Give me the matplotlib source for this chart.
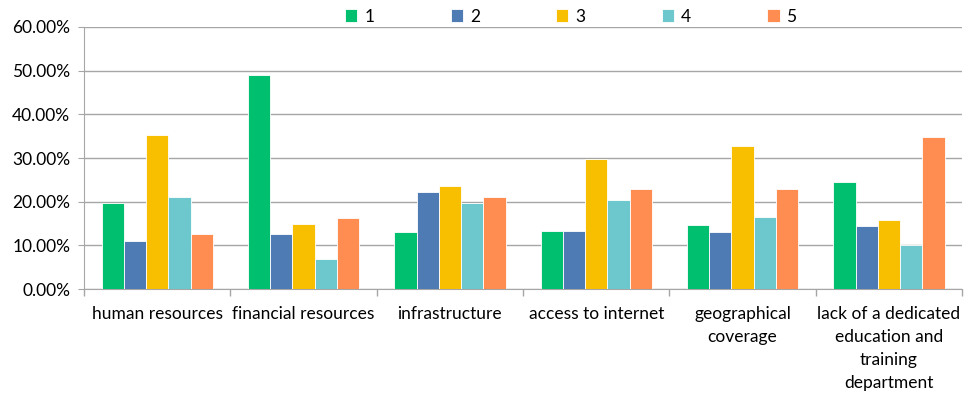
# Barriers by rating - grouped bar chart

import numpy as np
import matplotlib.pyplot as plt
from matplotlib.ticker import PercentFormatter

plt.rcParams['font.family'] = ['Lato', 'DejaVu Sans']

# ----------------------------
# Data
# ----------------------------
categories = ["human resources", "financial resources", "infrastructure",
              "access to internet", "geographical\ncoverage",
              "lack of a dedicated\neducation and\ntraining\ndepartment"]
series_names = ["1", "2", "3", "4", "5"]

r1 = [19.6, 48.9, 13.1, 13.4, 14.7, 24.6]
r2 = [11.1, 12.7, 22.3, 13.4, 13.0, 14.4]
r3 = [35.2, 15.0, 23.7, 29.7, 32.8, 15.9]
r4 = [21.1, 6.9, 19.6, 20.3, 16.4, 10.1]
r5 = [12.7, 16.2, 21.0, 22.9, 22.9, 34.8]

colors = ["#00BF6F", "#4F7BB5", "#F8BE00", "#6CC8CC", "#FF8C50"]

# ----------------------------
# Plot
# ----------------------------
fig = plt.figure(figsize=(9.66, 3.96), dpi=100)
ax = fig.add_axes([0.087, 0.270, 0.909, 0.662])

x = np.arange(len(categories))
width = 0.152
for i, vals in enumerate([r1, r2, r3, r4, r5]):
    ax.bar(x + (i - 2) * width, vals, width, color=colors[i],
           edgecolor="white", linewidth=0.6, label=series_names[i], zorder=3)

ax.set_xlim(-0.5, len(categories) - 0.5)
ax.set_ylim(0, 60)
ax.set_yticks(np.arange(0, 61, 10))
ax.yaxis.set_major_formatter(PercentFormatter(decimals=2))
ax.grid(axis="y", color="#A6A6A6", linewidth=1.0, zorder=0)

ax.set_xticks(x)
ax.set_xticklabels(categories, fontsize=12.5, linespacing=1.55)
ax.set_xticks(np.arange(-0.5, len(categories)), minor=True)
ax.tick_params(axis="x", which="major", length=0, pad=12)
ax.tick_params(axis="x", which="minor", length=5, color="#A6A6A6", width=1)
ax.tick_params(axis="y", length=4, color="#A6A6A6", labelsize=12.5, pad=6)

for s in ["top", "right"]:
    ax.spines[s].set_visible(False)
for s in ["left", "bottom"]:
    ax.spines[s].set_color("#A6A6A6")

fig.legend(loc="center", bbox_to_anchor=(0.591, 0.958), ncol=5, frameon=False,
           fontsize=12.5, handlelength=0.7, handleheight=0.7,
           handletextpad=0.4, columnspacing=4.4)

fig.savefig("out.png", dpi=100)
